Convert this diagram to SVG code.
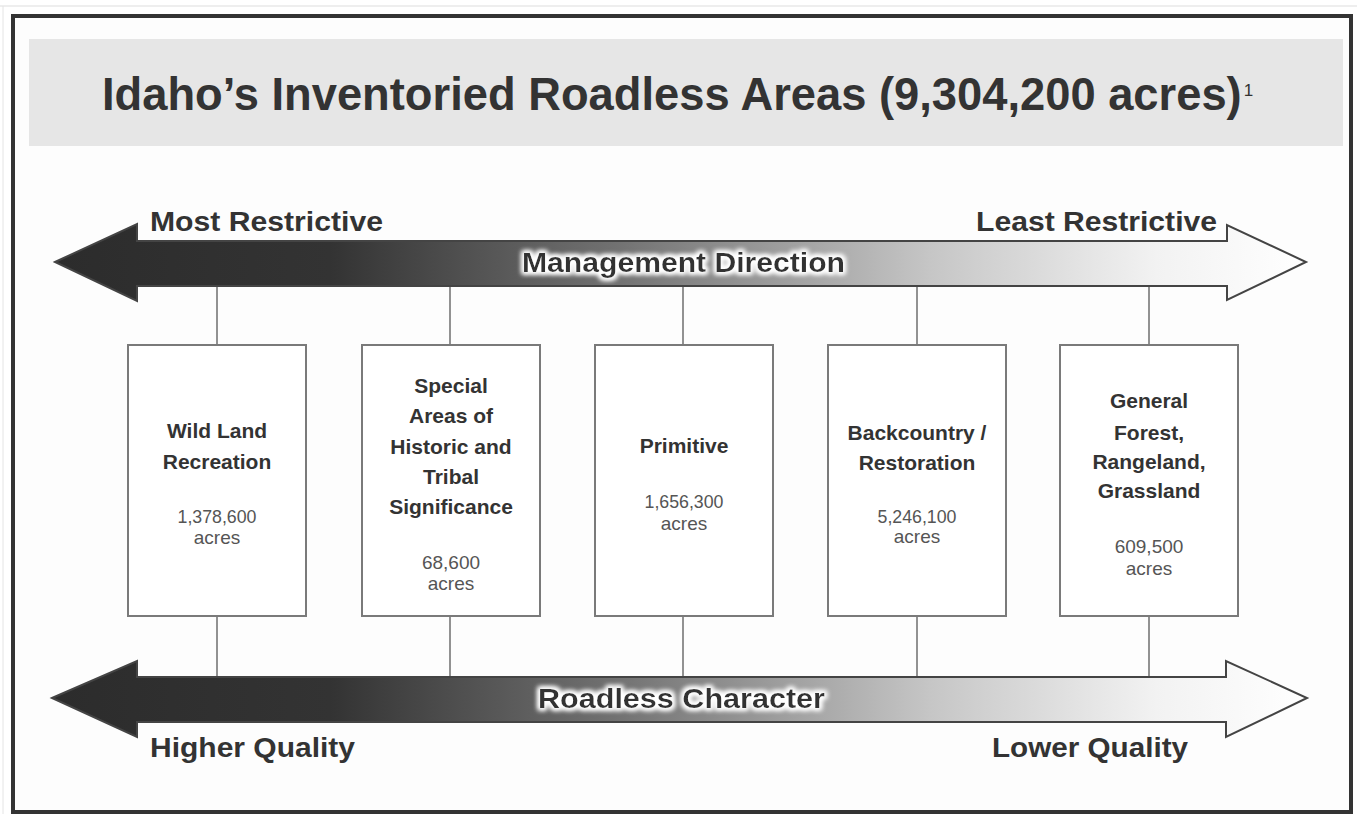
<svg xmlns="http://www.w3.org/2000/svg" width="1357" height="814" viewBox="0 0 1357 814">
<defs>
<style>
.hd{font-family:"Liberation Sans",Arial,sans-serif;font-weight:bold;fill:#333;}
.bx{fill:#fff;stroke:#7a7a7a;stroke-width:2;}
.bt{font-family:"Liberation Sans",Arial,sans-serif;font-weight:bold;font-size:21px;fill:#333;text-anchor:middle;}
.nt{font-family:"Liberation Sans",Arial,sans-serif;font-size:19px;fill:#555;text-anchor:middle;}
.ln{stroke:#777;stroke-width:1.6;fill:none;}
.arr{stroke:#444;stroke-width:2;stroke-linejoin:miter;}
</style>
<linearGradient id="grad" gradientUnits="userSpaceOnUse" x1="55" y1="0" x2="1306" y2="0">
<stop offset="0" stop-color="#2c2c2c"/>
<stop offset="0.22" stop-color="#333"/>
<stop offset="0.45" stop-color="#727272"/>
<stop offset="0.7" stop-color="#c6c6c6"/>
<stop offset="0.88" stop-color="#f2f2f2"/>
<stop offset="1" stop-color="#fff"/>
</linearGradient>
<filter id="glow" x="-10%" y="-60%" width="120%" height="220%">
<feMorphology in="SourceAlpha" operator="dilate" radius="2" result="d"/>
<feGaussianBlur in="d" stdDeviation="2.5" result="b"/>
<feFlood flood-color="#fff" result="f"/>
<feComposite in="f" in2="b" operator="in" result="g"/>
<feMerge><feMergeNode in="g"/><feMergeNode in="g"/><feMergeNode in="SourceGraphic"/></feMerge>
</filter>
</defs>
<rect width="1357" height="814" fill="#fff"/>
<line x1="0" y1="6" x2="1357" y2="6" stroke="#ddd" stroke-width="1"/>
<line x1="3" y1="6" x2="3" y2="814" stroke="#e4e4e4" stroke-width="1"/>
<rect id="frame" x="13" y="16" width="1338" height="796" fill="#fdfdfd" stroke="#333" stroke-width="4"/>
<g id="title">
<rect x="29" y="39" width="1314" height="107" fill="#e6e6e6"/>
<text class="hd" x="102" y="110" font-size="45.3">Idaho’s Inventoried Roadless Areas (9,304,200 acres)<tspan font-size="17" font-weight="normal" dx="2" dy="-14">1</tspan></text>
</g>
<g id="connectors">
<line class="ln" x1="217" y1="286" x2="217" y2="345"/>
<line class="ln" x1="450" y1="286" x2="450" y2="345"/>
<line class="ln" x1="683" y1="286" x2="683" y2="345"/>
<line class="ln" x1="917" y1="286" x2="917" y2="345"/>
<line class="ln" x1="1149" y1="286" x2="1149" y2="345"/>
<line class="ln" x1="217" y1="616" x2="217" y2="677"/>
<line class="ln" x1="450" y1="616" x2="450" y2="677"/>
<line class="ln" x1="683" y1="616" x2="683" y2="677"/>
<line class="ln" x1="917" y1="616" x2="917" y2="677"/>
<line class="ln" x1="1149" y1="616" x2="1149" y2="677"/>
</g>
<g id="management-arrow">
<path class="arr" fill="url(#grad)" d="M55,262 L137,224 L137,241 L1227,241 L1227,225 L1306,262 L1227,300 L1227,286 L137,286 L137,301 Z"/>
<text class="hd" x="522" y="272" font-size="28" textLength="323" lengthAdjust="spacingAndGlyphs" filter="url(#glow)">Management Direction</text>
<text class="hd" x="150" y="231" font-size="27" textLength="233" lengthAdjust="spacingAndGlyphs">Most Restrictive</text>
<text class="hd" x="976" y="231" font-size="27" textLength="241" lengthAdjust="spacingAndGlyphs">Least Restrictive</text>
</g>
<g id="roadless-arrow">
<path class="arr" fill="url(#grad)" d="M52,698 L137,661 L137,677 L1226,677 L1226,661 L1307,698 L1226,737 L1226,722 L137,722 L137,737 Z"/>
<text class="hd" x="538" y="708" font-size="28" textLength="287" lengthAdjust="spacingAndGlyphs" filter="url(#glow)">Roadless Character</text>
<text class="hd" x="150" y="757" font-size="27" textLength="205" lengthAdjust="spacingAndGlyphs">Higher Quality</text>
<text class="hd" x="992" y="757" font-size="27" textLength="196" lengthAdjust="spacingAndGlyphs">Lower Quality</text>
</g>
<g id="wild-land">
<rect class="bx" x="128" y="345" width="178" height="271"/>
<text class="bt" x="217" y="438">Wild Land</text>
<text class="bt" x="217" y="469">Recreation</text>
<text class="nt" x="217" y="523" textLength="79" lengthAdjust="spacingAndGlyphs">1,378,600</text>
<text class="nt" x="217" y="544">acres</text>
</g>
<g id="special-areas">
<rect class="bx" x="362" y="345" width="178" height="271"/>
<text class="bt" x="451" y="393">Special</text>
<text class="bt" x="451" y="423">Areas of</text>
<text class="bt" x="451" y="454">Historic and</text>
<text class="bt" x="451" y="484">Tribal</text>
<text class="bt" x="451" y="514">Significance</text>
<text class="nt" x="451" y="569">68,600</text>
<text class="nt" x="451" y="590">acres</text>
</g>
<g id="primitive">
<rect class="bx" x="595" y="345" width="178" height="271"/>
<text class="bt" x="684" y="453">Primitive</text>
<text class="nt" x="684" y="508" textLength="79" lengthAdjust="spacingAndGlyphs">1,656,300</text>
<text class="nt" x="684" y="530">acres</text>
</g>
<g id="backcountry">
<rect class="bx" x="828" y="345" width="178" height="271"/>
<text class="bt" x="917" y="440">Backcountry /</text>
<text class="bt" x="917" y="470">Restoration</text>
<text class="nt" x="917" y="523" textLength="79" lengthAdjust="spacingAndGlyphs">5,246,100</text>
<text class="nt" x="917" y="543">acres</text>
</g>
<g id="general-forest">
<rect class="bx" x="1060" y="345" width="178" height="271"/>
<text class="bt" x="1149" y="408">General</text>
<text class="bt" x="1149" y="440">Forest,</text>
<text class="bt" x="1149" y="469">Rangeland,</text>
<text class="bt" x="1149" y="498">Grassland</text>
<text class="nt" x="1149" y="553">609,500</text>
<text class="nt" x="1149" y="575">acres</text>
</g>
</svg>
